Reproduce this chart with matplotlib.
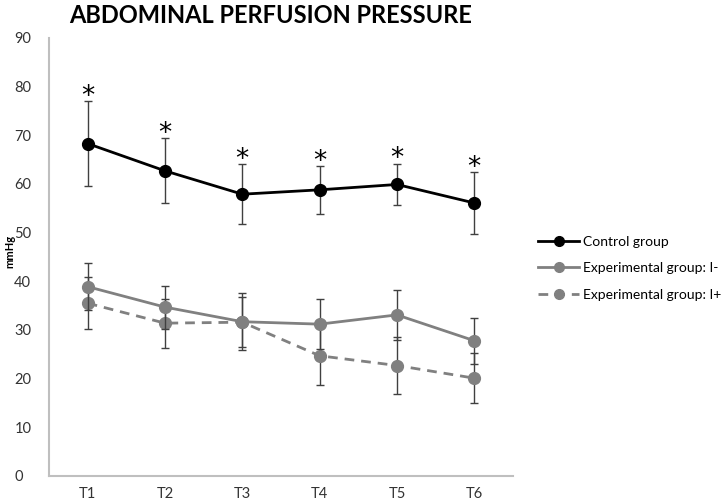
import numpy as np
import matplotlib
matplotlib.use("Agg")
import matplotlib.pyplot as plt
from matplotlib.lines import Line2D

times = ["T1", "T2", "T3", "T4", "T5", "T6"]

control = [68.3, 62.7, 57.9, 58.8, 59.9, 56.1]
control_err = [8.8, 6.7, 6.2, 4.9, 4.3, 6.3]

exp_minus = [38.9, 34.7, 31.7, 31.2, 33.1, 27.8]
exp_minus_err = [4.8, 4.4, 5.8, 5.1, 5.1, 4.7]

exp_plus = [35.5, 31.4, 31.6, 24.7, 22.7, 20.1]
exp_plus_err = [5.3, 5.0, 5.1, 6.0, 5.9, 5.2]

plt.rcParams["font.family"] = ["Lato", "DejaVu Sans"]

fig = plt.figure(figsize=(7.26, 5.03), dpi=100)
ax = fig.add_axes([0.0675, 0.0537, 0.639, 0.8708])

x = np.arange(1, len(times) + 1)
err_kw = dict(ecolor="#404040", elinewidth=1.0, capsize=3, capthick=1.0)
dash = (0, (3.5, 2.5))

ax.errorbar(x, exp_plus, yerr=exp_plus_err, color="#808080", lw=2, ls=dash,
            marker="o", ms=8.5, zorder=2, **err_kw)
ax.errorbar(x, exp_minus, yerr=exp_minus_err, color="#808080", lw=2, marker="o", ms=8.5,
            zorder=3, **err_kw)
ax.errorbar(x, control, yerr=control_err, color="black", lw=2, marker="o", ms=8.5,
            zorder=4, **err_kw)

# significance stars above control error bars
for xi, v, e in zip(x, control, control_err):
    ax.text(xi, v + e - 1.8, "*", ha="center", va="bottom", fontsize=19, family="DejaVu Sans")

ax.set_xlim(0.5, 6.5)
ax.set_ylim(0, 90)
ax.set_yticks(range(0, 91, 10))
ax.set_xticks(x)
ax.set_xticklabels(times)
ax.tick_params(length=0, labelsize=10.5, colors="#333333")
ax.tick_params(axis="x", pad=8)
ax.tick_params(axis="y", pad=25)
for lab in ax.get_yticklabels():
    lab.set_horizontalalignment("left")
for s in ["top", "right"]:
    ax.spines[s].set_visible(False)
for s in ["left", "bottom"]:
    ax.spines[s].set_color("#bfbfbf")
    ax.spines[s].set_linewidth(1.5)

fig.text(0.013, 0.5, "mmHg", rotation=90, ha="center", va="center", fontsize=8,
         fontweight="bold")

fig.text(0.372, 0.97, "ABDOMINAL PERFUSION PRESSURE", ha="center", va="center",
         fontsize=17, fontweight="bold")

handles = [
    Line2D([], [], color="black", lw=2, marker="o", ms=7),
    Line2D([], [], color="#808080", lw=2, marker="o", ms=7),
    Line2D([], [], color="#808080", lw=2, ls=dash, marker="o", ms=7),
]
labels = ["Control group", "Experimental group: I-", "Experimental group: I+"]
fig.legend(handles, labels, loc="center left", bbox_to_anchor=(0.733, 0.467),
           frameon=False, fontsize=10, handlelength=3, labelspacing=1.05,
           handletextpad=0.25, borderaxespad=0)

fig.savefig("out.png", dpi=100)
